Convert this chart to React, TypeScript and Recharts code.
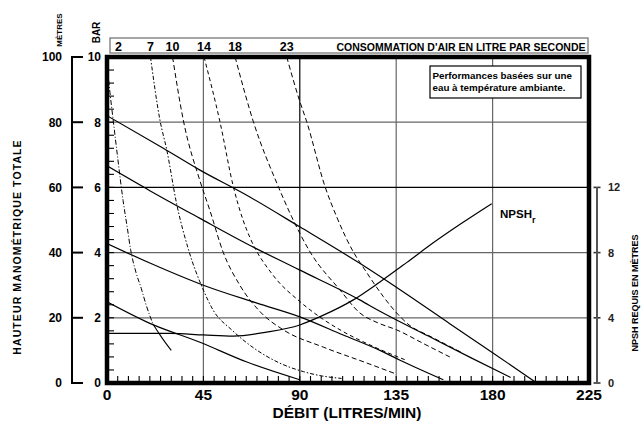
import React from 'react';
import { LineChart, Line, XAxis, YAxis, ReferenceLine, ReferenceDot } from 'recharts';

const FONT = '"Liberation Sans", Arial, Helvetica, sans-serif';

// ---- axes / ticks ----
const flowMinorTicks = [0, 5, 10, 15, 20, 25, 30, 35, 40, 45, 50, 55, 60, 65, 70, 75, 80, 85, 90, 95, 100, 105, 110, 115, 120, 125, 130, 135, 140, 145, 150, 155, 160, 165, 170, 175, 180, 185, 190, 195, 200, 205, 210, 215, 220, 225];
const flowLabels = [0, 45, 90, 135, 180, 225];
const headMinorTicks = [0, 4, 8, 12, 16, 20, 24, 28, 32, 36, 40, 44, 48, 52, 56, 60, 64, 68, 72, 76, 80, 84, 88, 92, 96, 100];
const meterLabels = [0, 20, 40, 60, 80, 100];
const barLabels = ['0', '2', '4', '6', '8', '10'];
const npshTicks = [0, 4, 8, 12];
const gridFlows = [45, 90, 135, 180];
const gridHeads = [20, 40, 60, 80];
const darkGridFlow = 90;
const darkGridHead = 60;

// ---- air consumption labels (L/s) and the flow where each curve meets the top ----
const airLabels = ['2', '7', '10', '14', '18', '23'];
const airLabelFlows = [5.4, 20.3, 30.6, 45.3, 59.8, 83.9];

// ---- head curves: [flow L/min, head m] ----
const head1: number[][] = [[0, 82], [26.3, 72], [43.4, 65.3], [63.6, 58.2], [90, 47.9], [118, 36.7], [136.8, 28.6], [160, 18.2], [180, 9.3], [200.6, 0]];
const head2: number[][] = [[0, 66.6], [20, 59], [43.4, 50.5], [65, 42.8], [89.8, 34.7], [118, 25.5], [127.4, 22], [150, 14.4], [170, 7.7], [188.4, 1.7]];
const head3: number[][] = [[0, 42.8], [20, 36.8], [45, 30], [70, 24.5], [90, 20.3], [110, 14.8], [127.4, 10], [136.8, 7], [157, 1]];
const head4: number[][] = [[0, 24.9], [20, 18.3], [43.4, 12.5], [65, 6.5], [90, 1]];

// ---- air consumption curves: [flow L/min, head m] ----
const air2Dashed: number[][] = [[0.3, 96], [1.4, 89], [3, 80], [5, 69], [7.5, 56], [9.5, 47.5], [11, 41], [13.5, 34], [16, 29], [18, 24.5], [21.5, 18]];
const air2Solid: number[][] = [[21.5, 18], [24, 15.5], [27, 12.6], [30, 10]];
const air7: number[][] = [[20.3, 100], [24.7, 80.7], [27.9, 71.5], [32.5, 55], [38, 41], [45, 28.5], [49.5, 22.4], [58.2, 16.3], [69.9, 10.1], [80, 6.3], [91.6, 3.5], [100, 2.2], [109.5, 1.4]];
const air10: number[][] = [[30.6, 100], [35.6, 80.7], [43.4, 62], [48, 53], [54.3, 40], [62, 30], [72, 21.5], [82.3, 16.3], [101, 11], [121, 6.2], [134, 3]];
const air14: number[][] = [[45.3, 100], [52.7, 80.2], [59, 60.2], [63.5, 50], [66.8, 44.5], [77.6, 33], [90, 25], [101, 19.5], [108.8, 16.3], [125, 11], [139.6, 7]];
const air18: number[][] = [[59.8, 100], [68.3, 80.2], [80, 60.2], [86.2, 51], [94.8, 40.2], [108.8, 28.5], [118, 21.5], [127, 18.3], [135.2, 16.3], [148, 12], [160, 8]];
const air23: number[][] = [[83.9, 100], [89.8, 86.8], [93.2, 80.2], [101.8, 60.2], [107.2, 51], [115, 40.2], [120.4, 34.7], [129, 26.5], [135.2, 21.5], [141.4, 17.6], [150, 14.6], [158, 11.9], [166, 9.2]];

// ---- NPSH required: [flow L/min, NPSH m] ----
const npshr: number[][] = [[0, 3.05], [30, 3.04], [45, 2.95], [59, 2.88], [74.5, 3.12], [90, 3.56], [100, 4.1], [115, 5.1], [127.4, 6.2], [140, 7.4], [152.3, 8.6], [165, 9.75], [179.6, 11.0]];

const toRows = (pts: number[][]) => pts.map(([x, y]) => ({ x, y }));

const FlowTick = (props: any) => {
  const { x, y, payload } = props;
  const v = payload.value;
  const isLabel = flowLabels.includes(v);
  return (
    <g>
      {v > 0 && v < 225 && <line x1={x} x2={x} y1={y - 1} y2={y - 7} stroke="#000" strokeWidth={1.1} />}
      {isLabel && (
        <text x={x} y={y + 17} textAnchor="middle" fontSize={15.5} fontWeight="bold" fontFamily={FONT} fill="#000">{v}</text>
      )}
    </g>
  );
};

// left axis: minor inner ticks, metres labels with outer tick, and bar labels
const HeadTick = (props: any) => {
  const { x, y, payload } = props;
  const v = payload.value;
  const idx = meterLabels.indexOf(v);
  return (
    <g>
      {v > 0 && v < 100 && <line x1={x + 1} x2={x + 7} y1={y} y2={y} stroke="#000" strokeWidth={1.1} />}
      {idx >= 0 && (
        <g>
          <path d={`M${x - 36},${y - 1} h12 v2 h-12 z`} fill="#000" />
          <text x={x - 45} y={y + 4.3} textAnchor="end" fontSize={12} fontWeight="bold" fontFamily={FONT} fill="#000">{v}</text>
          <text x={x - 6} y={y + 4.3} textAnchor="end" fontSize={12} fontWeight="bold" fontFamily={FONT} fill="#000">{barLabels[idx]}</text>
        </g>
      )}
    </g>
  );
};

const NpshTick = (props: any) => {
  const { x, y, payload } = props;
  return (
    <g>
      <path d={`M${x + 4.5},${y - 0.8} h7 v1.6 h-7 z`} fill="#333" />
      <text x={x + 19} y={y + 4} textAnchor="start" fontSize={11} fontWeight="bold" fontFamily={FONT} fill="#222">{payload.value}</text>
    </g>
  );
};

export default function App() {
  const curveProps = { xAxisId: 'x', yAxisId: 'm', dataKey: 'y', type: 'monotone' as const, dot: false, isAnimationActive: false, stroke: '#000' };
  return (
    <div style={{ position: 'absolute', left: 0, top: 0, width: 641, height: 424, background: '#fff', fontFamily: FONT }}>
      <LineChart width={641} height={424} margin={{ top: 57, right: 0, bottom: 0, left: 0 }}>
        <XAxis xAxisId="x" type="number" dataKey="x" domain={[0, 225]} ticks={flowMinorTicks} interval={0} height={41}
          axisLine={false} tickLine={false} tickSize={0} tickMargin={0} tick={<FlowTick />} allowDataOverflow />
        <YAxis yAxisId="m" orientation="left" type="number" domain={[0, 100]} ticks={headMinorTicks} interval={0} width={107}
          axisLine={false} tickLine={false} tickSize={0} tickMargin={0} tick={<HeadTick />} allowDataOverflow />
        <YAxis yAxisId="npsh" orientation="right" type="number" domain={[0, 20]} ticks={npshTicks} interval={0} width={52}
          axisLine={false} tickLine={false} tickSize={0} tickMargin={0} tick={<NpshTick />} allowDataOverflow />

        {gridFlows.map((f) => (
          <ReferenceLine key={'gx' + f} xAxisId="x" yAxisId="m" x={f} stroke={f === darkGridFlow ? '#000' : '#666'} strokeWidth={1.2} />
        ))}
        {gridHeads.map((h) => (
          <ReferenceLine key={'gy' + h} xAxisId="x" yAxisId="m" y={h} stroke={h === darkGridHead ? '#000' : '#666'} strokeWidth={1.2} />
        ))}

        <Line {...curveProps} data={toRows(head1)} strokeWidth={1.2} />
        <Line {...curveProps} data={toRows(head2)} strokeWidth={1.2} />
        <Line {...curveProps} data={toRows(head3)} strokeWidth={1.2} />
        <Line {...curveProps} data={toRows(head4)} strokeWidth={1.2} />

        <Line {...curveProps} data={toRows(air2Dashed)} strokeWidth={1} strokeDasharray="5 2 1 2" />
        <Line {...curveProps} data={toRows(air2Solid)} strokeWidth={1.1} />
        <Line {...curveProps} data={toRows(air7)} strokeWidth={1} strokeDasharray="4 2 1.5 2" />
        <Line {...curveProps} data={toRows(air10)} strokeWidth={1} strokeDasharray="5 3" />
        <Line {...curveProps} data={toRows(air14)} strokeWidth={1} strokeDasharray="4 3" />
        <Line {...curveProps} data={toRows(air18)} strokeWidth={1} strokeDasharray="5 3" />
        <Line {...curveProps} data={toRows(air23)} strokeWidth={1} strokeDasharray="5 3" />

        <Line xAxisId="x" yAxisId="npsh" dataKey="y" type="monotone" dot={false} isAnimationActive={false} stroke="#000" strokeWidth={1.2} data={toRows(npshr)} />

        {airLabels.map((lab, i) => (
          <ReferenceDot key={'al' + lab} xAxisId="x" yAxisId="m" x={airLabelFlows[i]} y={100} r={0} fill="none" stroke="none"
            label={{ value: lab, position: 'top', offset: 6, fill: '#000', fontSize: 12.5, fontWeight: 'bold', fontFamily: FONT }} />
        ))}
      </LineChart>

      <svg width={641} height={424} style={{ position: 'absolute', left: 0, top: 0, pointerEvents: 'none' }}>
        {/* plot frame */}
        <rect x={107} y={57} width={482} height={326} fill="none" stroke="#000" strokeWidth={4.5} />
        {/* metres axis line */}
        <path d="M71,57 V383 H73 V57 Z" fill="#000" />
        {/* NPSH axis line */}
        <path d="M596,187 V383 H598 V187 Z" fill="#555" />
        {/* air consumption header box */}
        <rect x={110} y={38} width={478} height={15} fill="none" stroke="#777" strokeWidth={1.3} />
        <text x={336.5} y={50.8} textLength={249} lengthAdjust="spacingAndGlyphs" fontSize={11} fontWeight="bold" fontFamily={FONT} fill="#000">CONSOMMATION D'AIR EN LITRE PAR SECONDE</text>
        {/* rotated unit labels */}
        <text x={61.5} y={30} transform="rotate(-90 61.5 30)" textAnchor="middle" fontSize={8} fontWeight="bold" fontFamily={FONT} fill="#000">MÈTRES</text>
        <text x={100} y={32.5} transform="rotate(-90 100 32.5)" textAnchor="middle" fontSize={10} fontWeight="bold" fontFamily={FONT} fill="#000">BAR</text>
        {/* axis titles */}
        <text x={20.5} y={247} transform="rotate(-90 20.5 247)" textAnchor="middle" fontSize={10.5} fontWeight="bold" letterSpacing={1.1} fontFamily={FONT} fill="#000">HAUTEUR MANOMÉTRIQUE TOTALE</text>
        <text x={638} y={293} transform="rotate(-90 638 293)" textAnchor="middle" fontSize={9} fontWeight="bold" fontFamily={FONT} fill="#000">NPSH REQUIS EN MÈTRES</text>
        <text x={347} y={418} textAnchor="middle" fontSize={15.5} fontWeight="bold" fontFamily={FONT} fill="#000">DÉBIT (LITRES/MIN)</text>
        {/* note box */}
        <rect x={430} y={66} width={151} height={32} fill="#fff" stroke="#000" strokeWidth={1.2} />
        <text x={432.5} y={78.5} fontSize={9.8} fontWeight="bold" fontFamily={FONT} fill="#000">Performances basées sur une</text>
        <text x={432.5} y={91} fontSize={9.8} fontWeight="bold" fontFamily={FONT} fill="#000">eau à température ambiante.</text>
        {/* NPSHr label */}
        <text x={500} y={218} fontSize={11.5} fontWeight="bold" fontFamily={FONT} fill="#000">NPSH<tspan fontSize={9} dy={5}>r</tspan></text>
      </svg>
    </div>
  );
}
